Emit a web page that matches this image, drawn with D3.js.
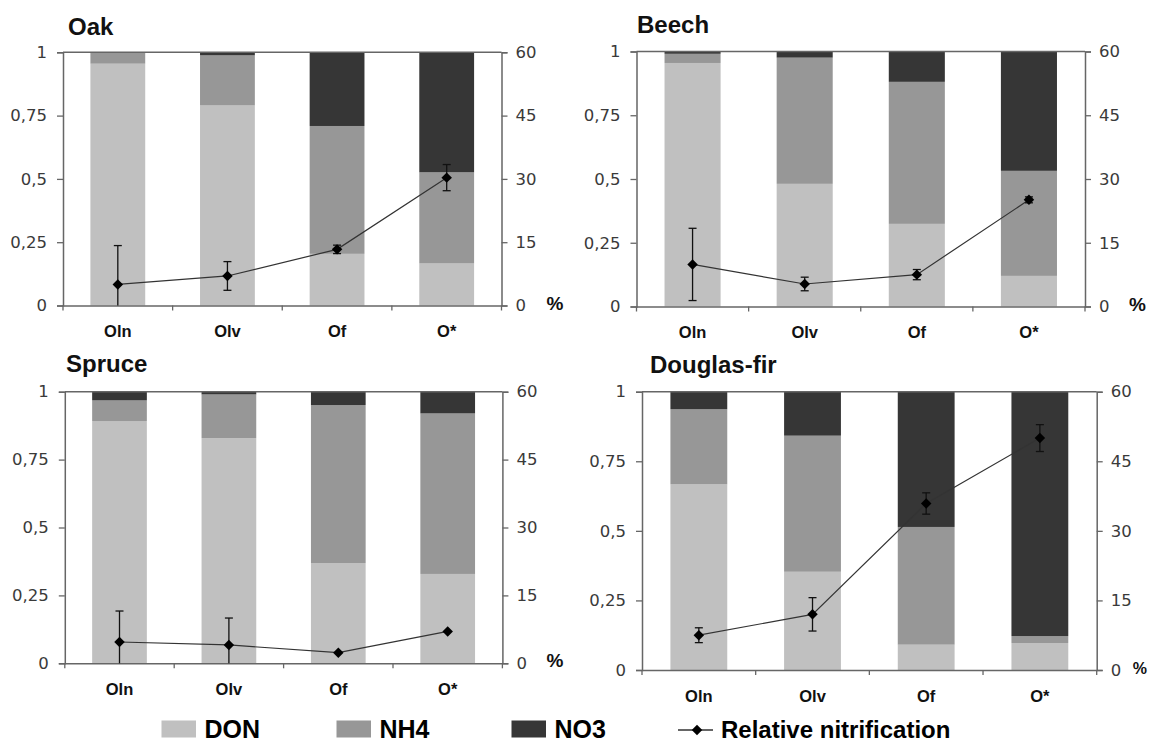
<!DOCTYPE html>
<html><head><meta charset="utf-8">
<script src="https://cdn.jsdelivr.net/npm/d3@7"></script>
<style>body{margin:0;background:#fff}svg{display:block}</style>
</head><body>
<svg id="c" width="1150" height="743"></svg>
<script>
// ---- data ----
const categories = ["Oln", "Olv", "Of", "O*"];
const panelNames = ["Oak", "Beech", "Spruce", "Douglas-fir"];
const leftTicks = [0, 0.25, 0.5, 0.75, 1];
const leftTickLabels = ["0", "0,25", "0,5", "0,75", "1"];
const rightTicks = [0, 15, 30, 45, 60];
const seriesNames = ["DON", "NH4", "NO3"];
const lineName = "Relative nitrification";

const donOak    = [0.955, 0.790, 0.204, 0.166];
const nh4Oak    = [0.045, 0.198, 0.505, 0.360];
const no3Oak    = [0.000, 0.012, 0.291, 0.474];
const rnOak     = [5.0, 7.0, 13.3, 30.3];
const rnErrOak  = [9.2, 3.4, 1.0, 3.1];

const donBeech    = [0.955, 0.481, 0.324, 0.120];
const nh4Beech    = [0.036, 0.495, 0.557, 0.412];
const no3Beech    = [0.009, 0.024, 0.119, 0.468];
const rnBeech     = [9.9, 5.3, 7.5, 25.1];
const rnErrBeech  = [8.5, 1.6, 1.2, 0.7];

const donSpruce    = [0.892, 0.829, 0.369, 0.329];
const nh4Spruce    = [0.076, 0.161, 0.582, 0.591];
const no3Spruce    = [0.032, 0.010, 0.049, 0.080];
const rnSpruce     = [4.7, 4.05, 2.35, 7.05];
const rnErrSpruce  = [6.85, 5.95, 0, 0];

const donDouglas    = [0.667, 0.353, 0.091, 0.097];
const nh4Douglas    = [0.270, 0.489, 0.423, 0.025];
const no3Douglas    = [0.063, 0.158, 0.486, 0.878];
const rnDouglas     = [7.5, 12.0, 35.9, 50.0];
const rnErrDouglas  = [1.6, 3.6, 2.3, 2.9];

// ---- styles / layout ----
const colors = {DON: "#c0c0c0", NH4: "#979797", NO3: "#363636"};
const panelData = [
  {don: donOak, nh4: nh4Oak, no3: no3Oak, rn: rnOak, err: rnErrOak},
  {don: donBeech, nh4: nh4Beech, no3: no3Beech, rn: rnBeech, err: rnErrBeech},
  {don: donSpruce, nh4: nh4Spruce, no3: no3Spruce, rn: rnSpruce, err: rnErrSpruce},
  {don: donDouglas, nh4: nh4Douglas, no3: no3Douglas, rn: rnDouglas, err: rnErrDouglas}
];
const layout = [
  {x0: 63, x1: 501.5, y0: 52.3, y1: 305.5, tx: 68, ty: 35, px: 45, pfs: 19},
  {x0: 636.5, x1: 1085, y0: 51.5, y1: 306.5, tx: 637, ty: 33, px: 44, pfs: 19},
  {x0: 64.8, x1: 502.4, y0: 391.7, y1: 663.3, tx: 66, ty: 372, px: 44, pfs: 19},
  {x0: 642, x1: 1096.7, y0: 391.7, y1: 670, tx: 650, ty: 373, px: 36, pfs: 16}
];

const svg = d3.select("#c");
const axisColor = "#666";

panelNames.forEach((name, i) => {
  const L = layout[i], D = panelData[i];
  const g = svg.append("g");
  const x = d3.scaleBand().domain(categories).range([L.x0, L.x1]).paddingInner(0.5).paddingOuter(0.25);
  const xb = d3.scaleBand().domain(categories).range([L.x0, L.x1]);
  const y = d3.scaleLinear().domain([0, 1]).range([L.y1, L.y0]);
  const y2 = d3.scaleLinear().domain([0, 60]).range([L.y1, L.y0]);

  // stacked bars
  const rows = categories.map((c, k) => ({cat: c, DON: D.don[k], NH4: D.nh4[k], NO3: D.no3[k]}));
  const stacked = d3.stack().keys(seriesNames)(rows);
  stacked.forEach(s => {
    g.append("g").selectAll("rect").data(s).join("rect")
      .attr("x", d => x(d.data.cat))
      .attr("width", x.bandwidth())
      .attr("y", d => y(d[1]))
      .attr("height", d => Math.max(0, y(d[0]) - y(d[1])))
      .attr("fill", colors[s.key]);
  });

  // top border line
  g.append("line").attr("x1", L.x0).attr("x2", L.x1).attr("y1", y(1)).attr("y2", y(1))
    .attr("stroke", axisColor).attr("stroke-width", 1.5);

  // left axis
  const la = g.append("g").attr("transform", `translate(${L.x0},0)`)
    .call(d3.axisLeft(y).tickValues(leftTicks).tickFormat((d, k) => leftTickLabels[k]).tickSizeOuter(0).tickSize(6).tickPadding(10));
  la.select(".domain").attr("stroke", axisColor).attr("stroke-width", 1.5);
  la.selectAll(".tick line").attr("stroke", axisColor).attr("stroke-width", 1.3);
  la.selectAll("text").attr("font-family", "DejaVu Sans, sans-serif").attr("font-size", 16.5).attr("fill", "#3a3a3a");

  // right axis
  const ra = g.append("g").attr("transform", `translate(${L.x1},0)`)
    .call(d3.axisRight(y2).tickValues(rightTicks).tickSizeOuter(0).tickSize(6).tickPadding(8));
  ra.select(".domain").attr("stroke", axisColor).attr("stroke-width", 1.5);
  ra.selectAll(".tick line").attr("stroke", axisColor).attr("stroke-width", 1.3);
  ra.selectAll("text").attr("font-family", "DejaVu Sans, sans-serif").attr("font-size", 16.5).attr("fill", "#3a3a3a");

  // bottom axis
  const ba = g.append("g").attr("transform", `translate(0,${L.y1})`)
    .call(d3.axisBottom(x).tickSize(0).tickPadding(20));
  ba.select(".domain").attr("stroke", axisColor).attr("stroke-width", 1.5);
  ba.selectAll("text").attr("font-family", "Liberation Sans, Arial, sans-serif").attr("font-weight", "bold")
    .attr("font-size", 16.5).attr("fill", "#111");
  // boundary ticks
  g.append("g").selectAll("line").data(categories.concat(["_end"])).join("line")
    .attr("x1", (d, k) => L.x0 + k * xb.bandwidth()).attr("x2", (d, k) => L.x0 + k * xb.bandwidth())
    .attr("y1", L.y1).attr("y2", L.y1 + 5).attr("stroke", axisColor).attr("stroke-width", 1.3);

  // % label
  g.append("text").attr("x", L.x1 + L.px).attr("y", L.y1 + 4).text("%")
    .attr("font-family", "Liberation Sans, Arial, sans-serif").attr("font-weight", "bold").attr("font-size", L.pfs).attr("fill", "#111");

  // title
  g.append("text").attr("x", L.tx).attr("y", L.ty).text(name)
    .attr("font-family", "Liberation Sans, Arial, sans-serif").attr("font-weight", "bold").attr("font-size", 24).attr("fill", "#111");

  // relative nitrification line
  const cx = c => x(c) + x.bandwidth() / 2;
  const pts = categories.map((c, k) => ({c, v: D.rn[k], e: D.err[k]}));
  g.append("path").datum(pts)
    .attr("d", d3.line().x(d => cx(d.c)).y(d => y2(d.v)))
    .attr("fill", "none").attr("stroke", "#333").attr("stroke-width", 1.2);
  const eb = g.append("g").attr("stroke", "#111").attr("stroke-width", 1.3);
  pts.filter(d => d.e > 0).forEach(d => {
    const hi = d.v + d.e, lo = Math.max(0, d.v - d.e);
    eb.append("line").attr("x1", cx(d.c)).attr("x2", cx(d.c)).attr("y1", y2(hi)).attr("y2", y2(lo));
    eb.append("line").attr("x1", cx(d.c) - 4).attr("x2", cx(d.c) + 4).attr("y1", y2(hi)).attr("y2", y2(hi));
    if (lo > 0) eb.append("line").attr("x1", cx(d.c) - 4).attr("x2", cx(d.c) + 4).attr("y1", y2(lo)).attr("y2", y2(lo));
  });
  g.append("g").selectAll("path").data(pts).join("path")
    .attr("d", d3.symbol(d3.symbolDiamond2, 70))
    .attr("transform", d => `translate(${cx(d.c)},${y2(d.v)})`)
    .attr("fill", "#000");
});

// ---- legend ----
const lg = svg.append("g").attr("font-family", "Liberation Sans, Arial, sans-serif").attr("font-weight", "bold").attr("fill", "#000");
const legX = [161.5, 336.5, 511.5];
seriesNames.forEach((s, k) => {
  lg.append("rect").attr("x", legX[k]).attr("y", 720.5).attr("width", 34.5).attr("height", 17).attr("fill", colors[s]);
  lg.append("text").attr("x", legX[k] + 43).attr("y", 737.5).attr("font-size", 25).text(s);
});
lg.append("line").attr("x1", 678).attr("x2", 713).attr("y1", 730).attr("y2", 730).attr("stroke", "#333").attr("stroke-width", 1.3);
lg.append("path").attr("d", d3.symbol(d3.symbolDiamond2, 70)).attr("transform", "translate(697,730)").attr("fill", "#000");
lg.append("text").attr("x", 721).attr("y", 737.5).attr("font-size", 24).text(lineName);
</script>
</body></html>
